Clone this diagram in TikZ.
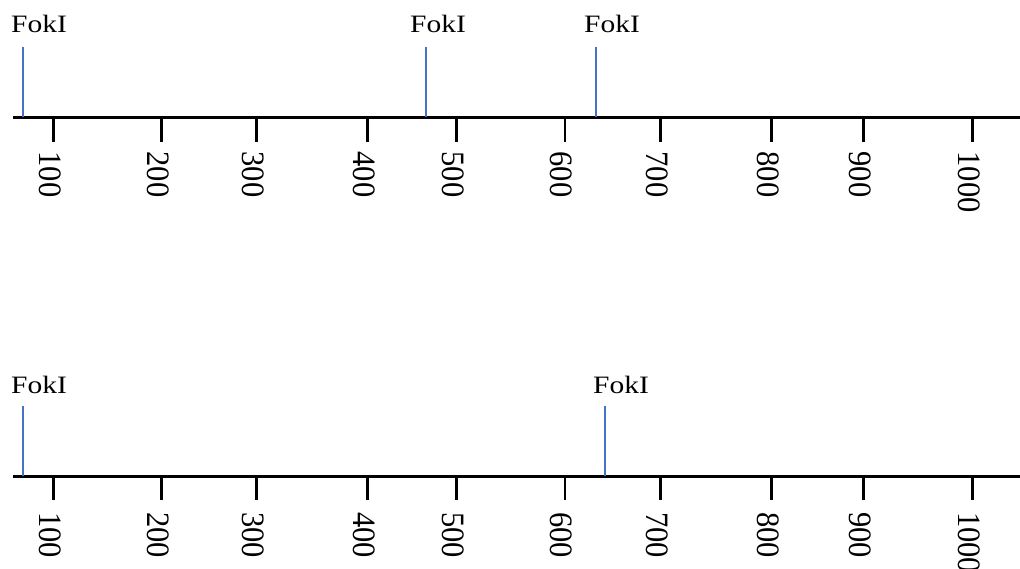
\documentclass[tikz,border=0pt]{standalone}
\usepackage{fontspec}
\setmainfont{Liberation Serif}
\definecolor{enzblue}{HTML}{4472C4}
\begin{document}
\begin{tikzpicture}[x=1pt,y=-1pt,
  axisline/.style={line width=2.6pt,black},
  tickline/.style={line width=2.7pt,black},
  siteline/.style={line width=2.3pt,enzblue},
  ticklabel/.style={rotate=-90,anchor=west,inner sep=0pt,font=\fontsize{30.5}{30.5}\selectfont},
  sitelabel/.style={anchor=base west,inner sep=0pt,font=\fontsize{25}{25}\selectfont}]
\useasboundingbox (0,0) rectangle (1020,569);
% axes
\coordinate (a1l) at (13,117.5);
\coordinate (a1r) at (1020,117.5);
\coordinate (a2l) at (13,476.3);
\coordinate (a2r) at (1020,476.3);
\draw[axisline] (a1l) -- (a1r);
\draw[axisline] (a2l) -- (a2r);
% ticks and labels
\foreach \x/\l [count=\i] in {53.3/100,161.7/200,256.7/300,367.7/400,456.7/500,565/600,660.7/700,771.7/800,863.7/900,972.3/1000}{
  \coordinate (ta\i) at (\x,117.5);
  \coordinate (tb\i) at (\x,142);
  \draw[tickline] (ta\i) -- (tb\i);
  \node[ticklabel] (tla\i) at (\x-3.5,151.5) {\scalebox{1}[1.07]{\l}};
  \coordinate (tc\i) at (\x,476.3);
  \coordinate (td\i) at (\x,500);
  \draw[tickline] (tc\i) -- (td\i);
  \node[ticklabel] (tlb\i) at (\x-3.5,512) {\scalebox{1}[1.07]{\l}};
}
% top map sites
\coordinate (s1t) at (22.7,46.7);  \coordinate (s1b) at (22.7,117.5);
\coordinate (s2t) at (426.3,46.7); \coordinate (s2b) at (426.3,117.5);
\coordinate (s3t) at (596,46.7);   \coordinate (s3b) at (596,117.5);
\draw[siteline] (s1t) -- (s1b);
\draw[siteline] (s2t) -- (s2b);
\draw[siteline] (s3t) -- (s3b);
\node[sitelabel] (f1) at (11,33) {\scalebox{1.18}[1]{FokI}};
\node[sitelabel] (f2) at (410,33) {\scalebox{1.18}[1]{FokI}};
\node[sitelabel] (f3) at (584,33) {\scalebox{1.18}[1]{FokI}};
% bottom map sites
\coordinate (s4t) at (22.7,405.7);  \coordinate (s4b) at (22.7,476.3);
\coordinate (s5t) at (605.3,405.7); \coordinate (s5b) at (605.3,476.3);
\draw[siteline] (s4t) -- (s4b);
\draw[siteline] (s5t) -- (s5b);
\node[sitelabel] (f4) at (11,393) {\scalebox{1.18}[1]{FokI}};
\node[sitelabel] (f5) at (593,393) {\scalebox{1.18}[1]{FokI}};
\end{tikzpicture}
\end{document}
